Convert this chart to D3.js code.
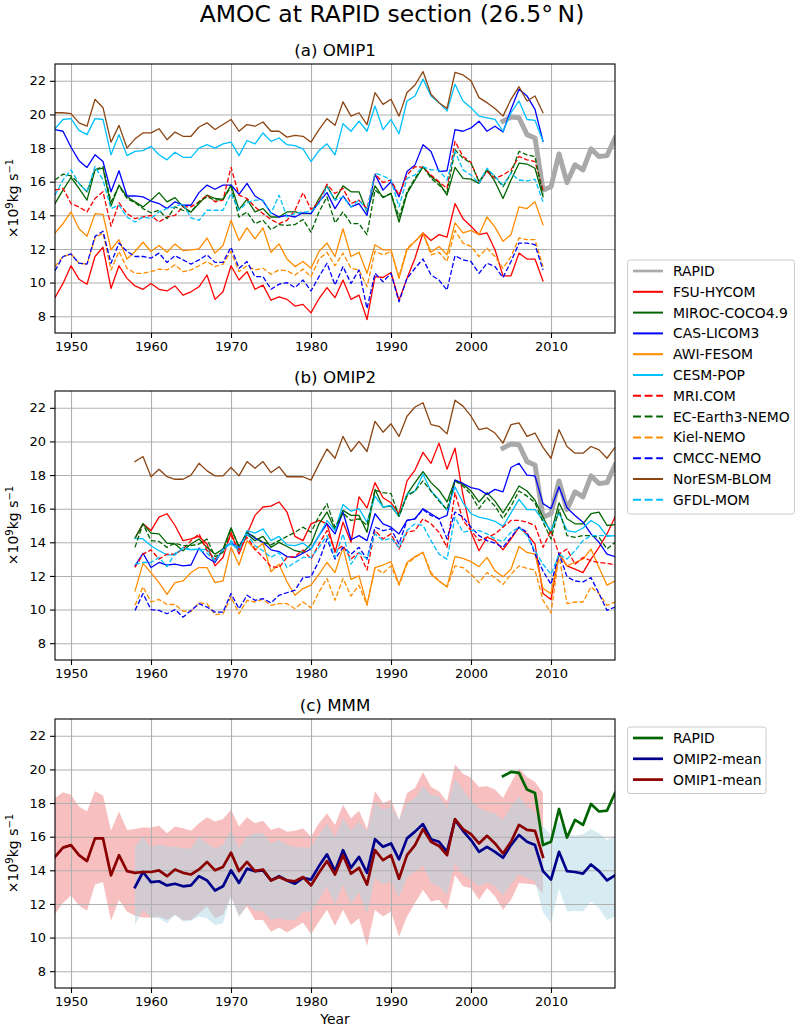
<!DOCTYPE html>
<html>
<head>
<meta charset="utf-8">
<script src="https://cdn.jsdelivr.net/npm/d3@7"></script>
<style>
  body { margin: 0; background: #fff; }
  svg { font-family: "DejaVu Sans", sans-serif; }
</style>
</head>
<body>
<script>
// years
var yearsOmip1 = d3.range(1948, 2010);
var yearsOmip2 = d3.range(1958, 2019);
var yearsRapid = d3.range(2004, 2019);

var xTicks = [1950, 1960, 1970, 1980, 1990, 2000, 2010];
var yTicks = [8, 10, 12, 14, 16, 18, 20, 22];

var rapid = [19.6, 19.85, 19.8, 18.8, 18.6, 15.5, 15.7, 17.65, 15.95, 17.0, 16.7, 17.95, 17.5, 17.55, 18.6];

// (a) OMIP1, 1948-2009
var fsu1 = [9.1, 9.95, 11.0, 10.2, 9.9, 11.55, 12.1, 9.65, 11.0, 10.25,
  9.8, 9.6, 9.95, 9.6, 9.5, 9.8, 9.25, 9.45, 9.75, 10.45,
  9.0, 9.45, 11.0, 10.15, 10.65, 9.6, 9.85, 8.95, 9.15, 9.0,
  8.6, 8.7, 8.2, 9.05, 9.7, 9.1, 10.15, 9.0, 9.25, 7.8,
  10.35, 10.3, 10.6, 8.95, 10.25, 11.45, 12.95, 12.5, 12.85, 12.7,
  14.7, 13.8, 13.35, 12.85, 12.95, 11.95, 10.4, 10.4, 11.75, 11.4,
  11.4, 10.1];
var miroc1 = [14.7, 15.5, 16.25, 15.6, 14.9, 16.7, 16.8, 14.55, 15.8, 15.1,
  14.8, 14.5, 14.9, 15.35, 14.8, 15.05, 14.5, 14.2, 14.7, 15.2,
  15.0, 14.95, 15.8, 14.35, 14.95, 14.2, 14.4, 13.9, 13.9, 14.2,
  14.2, 14.1, 14.1, 15.0, 15.75, 14.9, 15.75, 15.4, 15.4, 14.2,
  15.75, 15.05, 15.3, 13.6, 15.3, 16.1, 16.9, 16.3, 15.95, 15.2,
  16.85, 16.2, 16.15, 15.9, 16.7, 16.0, 15.0, 16.1, 17.1, 17.05,
  16.8, 15.1];
var cas1 = [19.1, 19.0, 18.05, 17.25, 16.85, 17.6, 17.2, 15.4, 16.65, 15.15,
  15.15, 15.1, 14.85, 14.7, 14.4, 14.8, 14.6, 14.6, 15.35, 15.8,
  15.55, 15.8, 15.8, 15.25, 15.9, 15.15, 14.85, 14.15, 13.9, 14.0,
  13.9, 14.15, 14.1, 14.8, 15.35, 14.4, 15.15, 14.5, 14.7, 14.0,
  16.45, 15.5, 16.0, 15.1, 16.6, 17.0, 18.2, 17.8, 16.6, 16.65,
  19.1, 19.0, 19.2, 19.6, 19.0, 19.3, 18.95, 20.3, 21.5, 21.1,
  20.3, 18.4];
var awi1 = [12.95, 13.5, 14.2, 13.2, 12.75, 14.1, 14.05, 11.95, 12.55, 11.4,
  11.85, 12.4, 11.85, 12.2, 11.8, 12.3, 11.9, 11.95, 12.0, 12.65,
  11.75, 12.2, 13.7, 12.5, 13.25, 12.6, 13.25, 11.8, 12.3, 11.4,
  10.95, 11.25, 10.85, 11.85, 12.35, 11.55, 13.2, 11.55, 11.8, 10.55,
  12.25, 11.95, 11.95, 10.25, 11.95, 12.45, 12.95, 11.8, 12.15, 11.65,
  13.55, 12.95, 13.1, 12.85, 13.9, 13.3, 12.45, 12.85, 14.5, 14.4,
  14.8, 13.45];
var cesm1 = [19.15, 19.7, 19.75, 19.05, 18.8, 19.75, 19.7, 17.6, 18.8, 17.55,
  17.8, 17.85, 18.1, 17.6, 17.3, 17.75, 17.45, 17.45, 18.0, 18.2,
  18.0, 18.25, 18.35, 17.55, 18.45, 18.25, 18.9, 18.4, 18.6, 18.2,
  18.15, 17.95, 17.2, 17.85, 18.25, 17.6, 19.45, 19.0, 19.6, 19.0,
  20.5, 19.1, 19.7, 18.85, 20.8, 21.1, 22.1, 21.1, 20.7, 20.2,
  21.8, 20.8, 20.4, 19.9, 19.8, 19.7, 19.0, 20.1, 20.8, 19.7,
  19.65, 18.4];
var mri1 = [15.5, 15.6, 14.7, 14.5, 14.2, 15.0, 15.4, 13.35, 14.75, 14.1,
  13.8, 13.9, 14.0, 13.6, 13.9, 14.0, 14.5, 14.5, 14.8, 15.2,
  14.8, 14.9, 16.85, 15.2, 15.0, 14.5, 14.1, 13.75, 13.5, 13.7,
  14.3, 15.35, 14.35, 14.8, 15.85, 15.3, 15.6, 14.7, 14.9, 14.4,
  16.45, 15.95, 16.1, 15.2, 16.4, 16.9, 16.85, 16.4, 16.0, 15.6,
  18.4, 17.5, 17.15, 16.0, 16.6, 16.2, 16.4, 16.7, 17.5, 17.3,
  17.2, 15.5];
var ec1 = [16.1, 16.45, 16.35, 15.9, 15.4, 16.7, 16.9, 14.8, 15.75, 15.0,
  14.75, 14.4, 14.15, 14.3, 13.8, 14.5, 14.3, 14.2, 14.8, 15.1,
  14.9, 14.95, 15.7, 13.9, 14.2, 13.5, 13.7, 13.15, 13.45, 13.4,
  13.45, 13.75, 13.0, 14.2, 15.1, 13.55, 14.2, 13.5, 13.5, 12.85,
  15.5, 15.1, 15.3, 13.9, 15.4, 16.2, 16.9, 16.2, 15.8, 15.3,
  17.9, 17.4, 17.1, 16.0, 16.7, 16.3, 15.7, 16.5, 17.8, 17.6,
  17.5, 15.2];
var kiel1 = [10.95, 11.55, 11.7, 11.15, 11.1, 12.65, 12.95, 10.75, 11.85, 10.85,
  10.55, 10.55, 10.65, 10.8, 10.75, 11.05, 10.65, 10.75, 11.0, 11.25,
  10.95, 11.1, 11.85, 10.65, 11.0, 10.75, 10.85, 10.5, 10.75, 10.7,
  10.45, 10.8, 10.35, 11.4, 11.8, 11.0, 11.75, 10.85, 10.75, 9.75,
  11.85, 11.65, 11.85, 10.35, 12.05, 12.45, 12.95, 11.65, 11.8, 11.25,
  13.1, 12.35, 12.15, 11.55, 12.05, 11.55, 10.85, 11.55, 12.65, 12.55,
  12.55, 10.95];
var cmcc1 = [10.7, 11.55, 11.7, 11.15, 11.1, 12.75, 13.05, 11.15, 12.35, 11.85,
  11.55, 11.55, 11.45, 11.75, 11.2, 11.6, 11.35, 11.1, 11.35, 11.65,
  11.2, 11.2, 12.1, 10.85, 11.25, 10.35, 10.35, 9.6, 9.9, 10.0,
  9.7, 10.15, 9.5, 10.35, 11.15, 9.85, 10.95, 9.95, 10.75, 8.45,
  10.55, 10.05, 10.55, 8.85, 10.25, 10.85, 11.4, 10.45, 10.15, 9.55,
  11.6, 11.35, 11.25, 10.55, 11.15, 10.95, 10.3, 11.25, 12.35, 12.35,
  12.25, 10.75];
var noresm1 = [20.1, 20.1, 20.05, 19.5, 19.3, 20.9, 20.4, 18.35, 19.35, 18.0,
  18.55, 18.9, 18.9, 19.15, 18.5, 18.95, 18.7, 18.7, 19.25, 19.5,
  19.1, 19.4, 19.7, 19.0, 19.4, 19.3, 19.55, 19.0, 19.0, 18.65,
  18.75, 18.7, 18.35, 19.1, 19.75, 19.35, 20.75, 19.9, 20.1, 19.4,
  21.3, 20.6, 20.9, 19.9, 21.3, 21.75, 22.55, 21.2, 20.7, 20.35,
  22.5, 22.35, 22.0, 21.0, 20.7, 20.35, 19.9, 20.9, 21.65, 20.8,
  21.1, 20.1];
var gfdl1 = [15.2, 16.1, 16.7, 15.9, 15.4, 16.9, 16.1, 14.4, 14.6, 13.9,
  13.6, 13.9, 13.8, 14.2, 14.4, 14.5, 14.7, 13.85, 13.7, 14.3,
  14.3, 14.3, 15.3, 14.3, 14.75, 14.9, 14.9, 14.1, 15.2, 13.9,
  14.1, 14.2, 14.2, 14.7, 15.7, 14.9, 15.1, 14.5, 14.9, 14.3,
  16.5, 16.35, 16.1, 14.5, 16.2, 16.4, 16.9, 16.7, 16.7, 16.1,
  17.8, 16.7, 16.4, 15.9, 16.8, 16.3, 15.8, 16.5, 16.1, 16.05,
  16.15, 14.8];

// (b) OMIP2, 1958-2018
var fsu2 = [14.25, 15.1, 14.7, 15.5, 15.7, 15.0, 14.1, 14.2, 14.35, 13.9,
  12.6, 13.1, 14.6, 13.3, 14.5, 15.6, 16.1, 16.15, 16.4, 15.8,
  14.35, 14.1, 15.1, 15.3, 15.1, 13.4, 15.2, 14.0, 16.7, 16.05,
  17.55, 16.65, 16.35, 15.7, 17.65, 18.3, 19.35, 18.7, 19.9, 18.35,
  19.6, 16.8, 14.6, 13.5, 14.3, 14.1, 13.55, 14.2, 14.9, 14.5,
  13.9, 10.95, 10.6, 13.3, 12.6, 12.4, 12.2, 13.0, 13.7, 14.5,
  15.5];
var miroc2 = [14.25, 15.1, 14.55, 14.5, 13.95, 13.9, 13.5, 13.9, 14.2, 13.7,
  13.3, 13.6, 14.85, 13.75, 14.5, 14.1, 14.35, 13.7, 14.0, 13.75,
  13.5, 13.4, 13.9, 15.1, 15.8, 14.75, 15.9, 15.6, 15.6, 14.6,
  17.15, 16.1, 16.15, 15.55, 16.85, 17.55, 18.2, 17.55, 17.1, 16.4,
  17.7, 17.45, 17.05, 16.4, 16.95, 16.45, 15.75, 16.5, 17.35, 17.05,
  16.5, 15.5, 14.55, 16.35, 15.4, 15.1, 15.1, 15.7, 15.8, 15.0,
  15.05];
var cas2 = [12.6, 13.35, 12.5, 12.8, 12.65, 12.7, 12.6, 12.65, 13.65, 13.1,
  12.8, 13.6, 13.95, 13.7, 14.6, 14.25, 14.0, 13.55, 13.45, 13.15,
  13.1, 13.35, 13.6, 14.4, 15.1, 14.5, 15.8, 14.15, 14.4, 14.1,
  15.7, 15.1, 14.9, 14.5, 15.3, 15.4, 16.0, 15.7, 15.4, 15.6,
  17.7, 17.5, 17.25, 17.15, 16.85, 17.15, 17.0, 18.45, 18.7, 18.0,
  17.95, 16.3, 16.0, 17.3, 16.05, 15.6, 15.2, 14.5, 14.0, 13.3,
  13.15];
var awi2 = [11.1, 12.75, 12.2, 11.6, 10.9, 11.6, 11.7, 12.2, 12.5, 12.5,
  11.6, 11.7, 13.7, 12.65, 14.1, 13.55, 13.95, 12.25, 12.7, 11.65,
  10.85, 11.25, 11.45, 12.1, 12.8, 12.2, 13.7, 11.8, 12.0, 10.3,
  12.5, 12.65, 12.85, 11.5, 12.8, 13.15, 13.4, 12.1, 11.7, 11.35,
  13.15, 13.05, 12.85, 12.55, 13.1, 12.3, 11.95, 12.4, 13.75, 13.4,
  13.3, 11.25, 10.95, 13.35, 12.6, 12.8, 13.0, 13.6, 12.5, 11.45,
  11.7];
var cesm2 = [14.25, 14.2, 13.8, 13.5, 13.25, 13.25, 13.7, 13.55, 13.6, 13.55,
  12.95, 13.55, 13.95, 13.5, 14.7, 14.55, 14.8, 14.1, 14.35, 13.85,
  13.8, 13.95, 13.6, 14.4, 15.3, 14.7, 16.25, 15.85, 16.0, 15.2,
  16.75, 16.1, 16.2, 15.55, 16.85, 17.05, 18.05, 17.05, 16.55, 15.9,
  17.3, 16.35, 15.7, 15.5, 15.4, 15.25, 14.95, 15.75, 16.55, 15.95,
  15.95, 15.3, 14.7, 15.75, 14.7, 14.6, 14.85, 15.3, 15.0, 14.35,
  14.4];
var mri2 = [12.5, 13.3, 13.55, 13.0, 13.3, 13.3, 13.6, 14.1, 14.5, 13.5,
  13.0, 13.5, 14.4, 13.55, 14.3, 13.6, 13.1, 12.55, 12.5, 13.1,
  13.15, 13.55, 13.0, 13.9, 14.7, 13.5, 13.8, 13.0, 13.4, 12.35,
  14.7, 14.2, 14.5, 13.6, 14.6, 14.7, 15.4, 15.1, 14.6, 13.7,
  16.95, 15.3, 14.7, 14.1, 14.3, 14.5, 14.9, 15.3, 15.3, 15.2,
  15.0, 13.7, 14.7, 13.3, 13.6, 12.7, 13.1, 12.9, 12.8, 12.75,
  12.65];
var ec2 = [13.7, 15.1, 14.1, 14.05, 13.7, 13.95, 13.8, 13.8, 13.9, 14.2,
  13.15, 13.4, 14.85, 13.7, 14.6, 14.3, 14.0, 13.85, 14.1, 14.35,
  14.6, 14.9, 14.6, 15.55, 16.3, 14.9, 15.75, 15.3, 15.4, 15.0,
  17.1, 16.95, 16.9, 15.55, 16.75, 17.05, 17.65, 17.05, 16.45, 15.95,
  17.65, 17.35, 16.85, 16.0, 16.65, 16.15, 15.4, 16.15, 17.05, 16.75,
  16.35, 15.2, 14.2, 15.95, 14.4, 14.3, 14.4, 14.4, 14.3, 13.6,
  14.0];
var kiel2 = [10.25, 11.35, 10.45, 10.6, 10.3, 10.3, 9.9, 9.9, 10.4, 10.35,
  9.7, 9.75, 10.75, 9.75, 10.55, 10.45, 10.6, 10.25, 10.35, 10.35,
  10.05, 10.45, 10.1, 11.05, 11.85, 10.55, 11.85, 10.8, 11.45, 10.25,
  12.5, 12.15, 12.6, 11.45, 12.7, 13.1, 13.4, 12.2, 11.7, 11.35,
  12.6, 12.5, 12.1, 11.6, 12.2, 11.9, 11.5, 12.1, 12.6, 12.45,
  12.35, 10.55, 9.8, 13.25, 10.35, 10.45, 10.45, 11.35, 10.95, 10.25,
  10.45];
var cmcc2 = [9.95, 10.95, 10.0, 9.95, 9.75, 10.0, 9.55, 9.95, 10.35, 10.15,
  9.85, 9.85, 10.95, 10.05, 10.85, 10.55, 10.65, 10.4, 10.85, 11.0,
  11.15, 11.9, 11.95, 12.9, 14.2, 13.0, 13.7, 13.3, 13.7, 13.0,
  14.9, 14.7, 14.8, 13.9, 15.3, 15.4, 15.95, 15.6, 15.4, 14.2,
  15.8, 15.5, 14.9, 14.4, 14.1, 13.95, 13.7, 14.3, 14.9, 14.6,
  13.3, 12.3, 11.5, 13.35, 11.95, 11.7, 11.65, 11.9, 10.95, 9.95,
  10.15];
var noresm2 = [18.8, 19.1, 17.9, 18.35, 17.9, 17.75, 17.75, 18.0, 18.7, 18.25,
  17.95, 17.95, 18.45, 17.95, 18.8, 18.4, 18.8, 18.15, 18.5, 17.9,
  17.9, 17.9, 17.7, 18.65, 19.55, 19.0, 20.3, 19.4, 20.0, 19.4,
  21.2, 20.55, 21.05, 20.3, 21.5, 22.05, 22.3, 21.0, 20.9, 20.45,
  22.45, 22.1, 21.5, 20.7, 20.8, 20.5, 19.9, 21.0, 21.1, 20.3,
  20.5, 19.65, 19.0, 20.7, 19.7, 19.3, 19.3, 19.7, 19.5, 19.0,
  19.65];
var gfdl2 = [12.7, 12.8, 12.8, 13.1, 12.55, 13.35, 13.6, 13.6, 13.55, 13.35,
  12.9, 13.55, 14.1, 13.6, 14.5, 13.8, 13.5, 13.1, 13.4, 12.5,
  12.8, 13.1, 13.1, 13.7, 14.4, 13.1, 14.5, 12.7, 13.4, 13.0,
  14.5, 14.1, 14.25, 13.7, 14.7, 15.1, 15.0, 14.1, 13.3, 13.0,
  15.5, 14.6, 14.7, 14.7, 14.5, 14.2, 14.05, 14.6, 14.9, 14.4,
  13.5, 12.7, 12.1, 13.3, 13.0, 13.5, 14.1, 14.4, 14.4, 14.4,
  14.4];

// (c) MMM
var omip1Mean = [14.8, 15.35, 15.5, 14.9, 14.55, 15.9, 15.9, 13.7, 14.9, 13.95,
  13.85, 13.9, 13.9, 14.0, 13.65, 14.05, 13.85, 13.75, 14.05, 14.5,
  14.0, 14.2, 15.05, 13.95, 14.5, 13.95, 14.05, 13.4, 13.6, 13.4,
  13.35, 13.6, 13.1, 13.85, 14.55, 13.75, 14.9, 13.8, 14.15, 13.15,
  15.2, 14.6, 14.9, 13.5, 14.9, 15.5, 16.45, 15.7, 15.45, 14.9,
  17.05, 16.45, 16.15, 15.6, 16.05, 15.6, 15.0, 15.7, 16.7, 16.4,
  16.35, 14.8];
var omip1Hi = [18.3, 18.65, 18.5, 17.8, 17.5, 18.7, 18.45, 16.35, 17.5, 16.4,
  16.45, 16.55, 16.55, 16.65, 16.2, 16.6, 16.5, 16.35, 16.8, 17.15,
  16.9, 17.05, 17.6, 16.6, 17.15, 16.8, 16.95, 16.4, 16.55, 16.3,
  16.35, 16.5, 16.0, 16.8, 17.4, 16.7, 17.9, 17.1, 17.55, 16.45,
  18.7, 18.0, 18.2, 17.0, 18.6, 18.9, 19.85, 18.95, 18.7, 18.1,
  20.3, 19.75, 19.5, 18.95, 19.0, 18.8, 18.3, 19.2, 20.05, 19.55,
  19.25, 18.6];
var omip1Lo = [11.4, 12.05, 12.5, 11.9, 11.6, 13.15, 13.3, 11.0, 12.25, 11.55,
  11.3, 11.2, 11.2, 11.25, 11.05, 11.35, 11.05, 11.05, 11.45, 11.85,
  11.15, 11.35, 12.45, 11.3, 11.85, 11.05, 11.05, 10.35, 10.6, 10.3,
  10.6, 10.9, 10.2, 10.95, 11.65, 10.7, 11.65, 10.75, 11.15, 9.5,
  11.65, 11.25, 11.55, 10.05, 11.25, 12.05, 12.85, 12.15, 12.25, 11.65,
  13.7, 13.05, 12.95, 12.25, 12.95, 12.45, 11.65, 12.25, 13.25, 13.2,
  13.15, 12.6];
var omip2Mean = [13.0, 13.9, 13.3, 13.35, 13.1, 13.2, 13.05, 13.1, 13.65, 13.4,
  12.8, 13.05, 14.0, 13.25, 14.1, 13.95, 14.0, 13.4, 13.65, 13.4,
  13.2, 13.55, 13.45, 14.25, 14.95, 13.95, 15.2, 14.15, 14.8, 13.85,
  15.85, 15.4, 15.6, 14.65, 15.9, 16.3, 16.75, 15.85, 15.7, 15.1,
  17.0, 16.35, 15.8, 15.1, 15.4, 15.1, 14.75, 15.5, 16.1, 15.7,
  15.5, 13.95, 13.45, 15.1, 13.95, 13.9, 13.8, 14.35, 13.95, 13.4,
  13.7];
var omip2Hi = [15.4, 16.0, 15.35, 15.55, 15.4, 15.4, 15.3, 15.3, 16.0, 15.6,
  15.3, 15.5, 16.4, 15.3, 16.0, 16.2, 16.2, 15.6, 15.8, 15.5,
  15.4, 15.35, 15.35, 16.1, 16.8, 15.95, 17.1, 16.35, 16.9, 16.3,
  18.0, 17.6, 17.8, 17.0, 18.0, 18.3, 19.0, 18.5, 18.4, 17.7,
  19.45, 18.8, 18.1, 17.7, 17.5, 17.4, 17.0, 17.8, 18.4, 17.8,
  17.5, 16.6, 16.1, 16.95, 16.15, 16.05, 16.15, 16.45, 16.2, 15.8,
  16.05];
var omip2Lo = [10.75, 11.65, 11.2, 11.15, 10.85, 11.35, 10.95, 11.0, 11.25, 11.15,
  10.75, 10.85, 12.45, 11.2, 11.95, 11.6, 11.55, 11.05, 11.15, 11.05,
  11.05, 11.55, 11.55, 12.25, 13.05, 11.95, 13.15, 12.0, 12.7, 11.4,
  13.55, 13.15, 13.35, 12.4, 13.55, 13.95, 14.3, 13.25, 13.05, 12.55,
  14.4, 13.75, 13.45, 13.05, 13.3, 13.05, 12.5, 13.2, 13.75, 13.55,
  13.35, 11.5, 10.85, 12.9, 11.55, 11.6, 11.55, 12.15, 11.75, 11.05,
  11.25];

var models = [
  { name: "FSU-HYCOM", color: "#ff0000", dash: false, a: fsu1, b: fsu2 },
  { name: "MIROC-COCO4.9", color: "#006400", dash: false, a: miroc1, b: miroc2 },
  { name: "CAS-LICOM3", color: "#0000ff", dash: false, a: cas1, b: cas2 },
  { name: "AWI-FESOM", color: "#ff8c00", dash: false, a: awi1, b: awi2 },
  { name: "CESM-POP", color: "#00bfff", dash: false, a: cesm1, b: cesm2 },
  { name: "MRI.COM", color: "#ff0000", dash: true, a: mri1, b: mri2 },
  { name: "EC-Earth3-NEMO", color: "#006400", dash: true, a: ec1, b: ec2 },
  { name: "Kiel-NEMO", color: "#ff8c00", dash: true, a: kiel1, b: kiel2 },
  { name: "CMCC-NEMO", color: "#0000ff", dash: true, a: cmcc1, b: cmcc2 },
  { name: "NorESM-BLOM", color: "#8b4513", dash: false, a: noresm1, b: noresm2 },
  { name: "GFDL-MOM", color: "#00bfff", dash: true, a: gfdl1, b: gfdl2 },
];

var W = 796, H = 1028;
var svg = d3.select("body").append("svg").attr("width", W).attr("height", H);

var left = 55, right = 615, panelH = 269;
var x = d3.scaleLinear().domain([1948, 2018]).range([left, right]);

function pairs(years, vals) {
  return vals.map(function (v, i) { return [years[i], v]; });
}

function drawPanel(top, title, id, last) {
  var y = d3.scaleLinear().domain([7, 23]).range([top + panelH, top]);
  var g = svg.append("g");

  g.append("clipPath").attr("id", "clip" + id)
    .append("rect").attr("x", left).attr("y", top)
    .attr("width", right - left).attr("height", panelH);

  var back = g.append("g");   // fills go here, under grid
  var grid = g.append("g");
  grid.append("g")
    .attr("transform", "translate(0," + (top + panelH) + ")")
    .call(d3.axisBottom(x).tickValues(xTicks).tickSize(-panelH).tickFormat(""));
  grid.append("g")
    .attr("transform", "translate(" + left + ",0)")
    .call(d3.axisLeft(y).tickValues(yTicks).tickSize(-(right - left)).tickFormat(""));
  grid.selectAll(".domain").remove();
  grid.selectAll(".tick line").attr("stroke", "#b0b0b0").attr("stroke-width", 1.1);

  var plot = g.append("g").attr("clip-path", "url(#clip" + id + ")");

  var xa = g.append("g")
    .attr("transform", "translate(0," + (top + panelH) + ")")
    .call(d3.axisBottom(x).tickValues(xTicks).tickFormat(d3.format("d")).tickSize(5).tickPadding(4));
  var ya = g.append("g")
    .attr("transform", "translate(" + left + ",0)")
    .call(d3.axisLeft(y).tickValues(yTicks).tickSize(5).tickPadding(4));
  [xa, ya].forEach(function (a) {
    a.select(".domain").remove();
    a.attr("font-size", 13).attr("font-family", "DejaVu Sans");
    a.selectAll(".tick line").attr("stroke-width", 1.1);
    a.selectAll("text").attr("fill", "#000");
  });

  g.append("rect").attr("x", left).attr("y", top)
    .attr("width", right - left).attr("height", panelH)
    .attr("fill", "none").attr("stroke", "#000").attr("stroke-width", 1.1);

  g.append("text").attr("x", (left + right) / 2).attr("y", top - 8)
    .attr("text-anchor", "middle").attr("font-size", 16.7).text(title);

  var yl = g.append("text")
    .attr("transform", "translate(17.5," + (top + panelH / 2) + ") rotate(-90)")
    .attr("text-anchor", "middle").attr("font-size", 14);
  yl.append("tspan").text("\u00d710");
  yl.append("tspan").attr("dy", -5).attr("font-size", 10).text("9");
  yl.append("tspan").attr("dy", 5).text("kg s");
  yl.append("tspan").attr("dy", -5).attr("font-size", 10).text("\u22121");

  if (last) {
    g.append("text").attr("x", (left + right) / 2).attr("y", top + panelH + 36)
      .attr("text-anchor", "middle").attr("font-size", 13.9).text("Year");
  }

  var line = d3.line()
    .x(function (d) { return x(d[0]); })
    .y(function (d) { return y(d[1]); });
  return { y: y, back: back, plot: plot, line: line };
}

function addLine(p, data, color, width, dash) {
  p.plot.append("path").datum(data)
    .attr("d", p.line)
    .attr("fill", "none")
    .attr("stroke", color)
    .attr("stroke-width", width)
    .attr("stroke-linejoin", "round")
    .attr("stroke-linecap", dash ? "butt" : "square")
    .attr("stroke-dasharray", dash ? dash : null);
}

function drawLegend(x0, y0, w, h, items) {
  var lg = svg.append("g");
  lg.append("rect").attr("x", x0).attr("y", y0).attr("width", w).attr("height", h)
    .attr("rx", 2.5).attr("fill", "#fff").attr("fill-opacity", 0.8)
    .attr("stroke", "#cccccc").attr("stroke-width", 1);
  var row = lg.selectAll("g.item").data(items).enter().append("g")
    .attr("transform", function (d, i) { return "translate(0," + (y0 + 11 + i * 20.8) + ")"; });
  row.append("line")
    .attr("x1", x0 + 5.5).attr("x2", x0 + 35.5)
    .attr("stroke", function (d) { return d.color; })
    .attr("stroke-width", function (d) { return d.width; })
    .attr("stroke-dasharray", function (d) { return d.dash ? "8,3.6" : null; });
  row.append("text")
    .attr("x", x0 + 45.5).attr("y", 5)
    .attr("font-size", 13.9)
    .text(function (d) { return d.name; });
}

// suptitle
svg.append("text").attr("x", 392).attr("y", 22).attr("text-anchor", "middle")
  .attr("font-size", 23.5).text("AMOC at RAPID section (26.5\u00b0\u2009N)");

var dashPlot = "5,2.2";

// (a) and (b)
var pa = drawPanel(64, "(a) OMIP1", "a", false);
var pb = drawPanel(391, "(b) OMIP2", "b", false);
[pa, pb].forEach(function (p) {
  addLine(p, pairs(yearsRapid, rapid), "#a9a9a9", 5, null);
});
models.forEach(function (m) {
  addLine(pa, pairs(yearsOmip1, m.a), m.color, 1.3, m.dash ? dashPlot : null);
  addLine(pb, pairs(yearsOmip2, m.b), m.color, 1.3, m.dash ? dashPlot : null);
});

var legendItems = [{ name: "RAPID", color: "#a9a9a9", width: 2.7, dash: false }]
  .concat(models.map(function (m) {
    return { name: m.name, color: m.color, width: 2, dash: m.dash };
  }));
drawLegend(627.5, 260, 167, 254, legendItems);

// (c)
var pc = drawPanel(719, "(c) MMM", "c", true);
var area = d3.area()
  .x(function (d) { return x(d[0]); })
  .y0(function (d) { return pc.y(d[1]); })
  .y1(function (d) { return pc.y(d[2]); });
function band(years, lo, hi) {
  return lo.map(function (v, i) { return [years[i], v, hi[i]]; });
}
pc.back.append("path").datum(band(yearsOmip1, omip1Lo, omip1Hi))
  .attr("d", area).attr("fill", "#f08080").attr("fill-opacity", 0.5)
  .attr("clip-path", "url(#clipc)");
pc.back.append("path").datum(band(yearsOmip2, omip2Lo, omip2Hi))
  .attr("d", area).attr("fill", "#add8e6").attr("fill-opacity", 0.5)
  .attr("clip-path", "url(#clipc)");

addLine(pc, pairs(yearsRapid, rapid), "#006400", 2.7, null);
addLine(pc, pairs(yearsOmip2, omip2Mean), "#00008b", 2.7, null);
addLine(pc, pairs(yearsOmip1, omip1Mean), "#8b0000", 2.7, null);

drawLegend(627.5, 727, 138.5, 66.5, [
  { name: "RAPID", color: "#006400", width: 2.7, dash: false },
  { name: "OMIP2-mean", color: "#00008b", width: 2.7, dash: false },
  { name: "OMIP1-mean", color: "#8b0000", width: 2.7, dash: false },
]);
</script>
</body>
</html>
